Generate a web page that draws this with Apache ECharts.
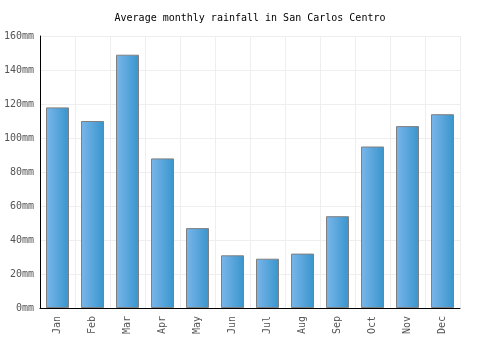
<!DOCTYPE html>
<html>
<head>
<meta charset="utf-8">
<script src="https://cdn.jsdelivr.net/npm/echarts@6/dist/echarts.min.js"></script>
<style>
  html, body { margin: 0; padding: 0; background: #fff; }
</style>
</head>
<body>
<div id="main" style="width: 500px; height: 350px"></div>
<script>
// data
const months = ["Jan", "Feb", "Mar", "Apr", "May", "Jun", "Jul", "Aug", "Sep", "Oct", "Nov", "Dec"];
const rainfall = [118, 110, 149, 88, 47, 31, 29, 32, 54, 95, 107, 114];

const mono = "DejaVu Sans Mono";

let myChart = echarts.init(document.getElementById("main"));

let option = {
  backgroundColor: "#fff",
  animation: false,
  title: {
    text: "Average monthly rainfall in San Carlos Centro",
    left: "center",
    top: 8,
    textStyle: {
      fontFamily: mono,
      fontSize: 10,
      fontWeight: "normal",
      color: "#000",
    },
  },
  grid: {
    left: 40,
    right: 40,
    top: 36,
    bottom: 42,
  },
  xAxis: {
    type: "category",
    data: months,
    axisLine: { lineStyle: { color: "#000", width: 1 } },
    axisTick: { show: false },
    splitLine: { show: true, interval: 0, lineStyle: { color: "#eeeeee" } },
    axisLabel: {
      rotate: 90,
      interval: 0,
      margin: 8,
      fontFamily: mono,
      fontSize: 10,
      color: "#555",
    },
  },
  yAxis: {
    type: "value",
    min: 0,
    max: 160,
    interval: 20,
    axisLine: { show: true, lineStyle: { color: "#000", width: 1 } },
    axisTick: { show: false },
    splitLine: { show: true, lineStyle: { color: "#eeeeee" } },
    axisLabel: {
      formatter: "{value}mm",
      margin: 6,
      fontFamily: mono,
      fontSize: 10,
      color: "#555",
    },
  },
  series: [
    {
      name: "Rainfall",
      type: "bar",
      data: rainfall,
      barWidth: 23,
      itemStyle: {
        color: new echarts.graphic.LinearGradient(0, 0, 1, 0, [
          { offset: 0, color: "#7ab6ea" },
          { offset: 1, color: "#3895cd" },
        ]),
        borderColor: "#808080",
        borderWidth: 1,
      },
    },
  ],
};

myChart.setOption(option);
</script>
</body>
</html>
